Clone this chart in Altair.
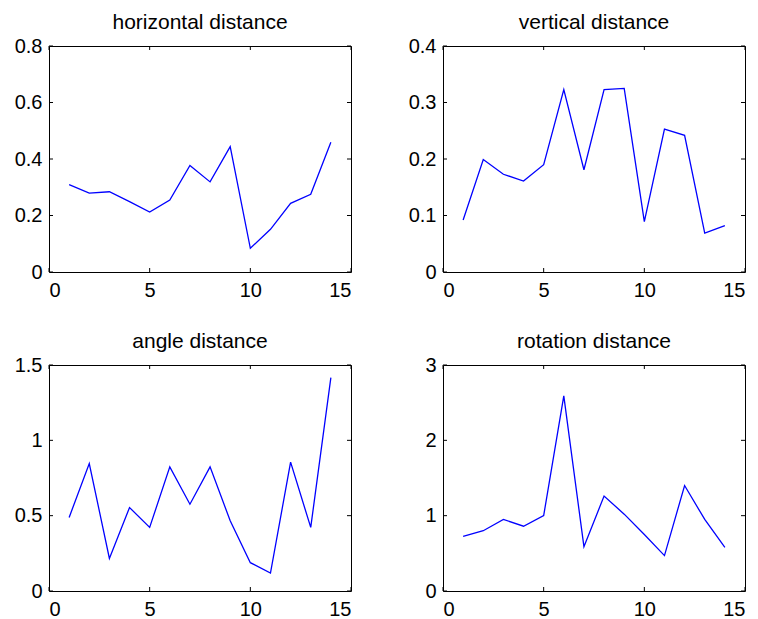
import altair as alt
import pandas as pd

x_vals = list(range(1, 15))
horizontal = [0.309, 0.279, 0.284, 0.249, 0.212, 0.255, 0.377, 0.319, 0.444, 0.084, 0.151, 0.243, 0.275, 0.459]
vertical = [0.092, 0.199, 0.173, 0.161, 0.190, 0.323, 0.181, 0.323, 0.325, 0.089, 0.253, 0.242, 0.069, 0.082]
angle = [0.488, 0.846, 0.216, 0.554, 0.422, 0.824, 0.576, 0.824, 0.466, 0.188, 0.119, 0.855, 0.422, 1.416]
rotation = [0.725, 0.80, 0.95, 0.86, 1.00, 2.59, 0.588, 1.26, 1.02, 0.75, 0.47, 1.40, 0.95, 0.58]

titles = ["horizontal distance", "vertical distance", "angle distance", "rotation distance"]
series = [horizontal, vertical, angle, rotation]
y_max = [0.8, 0.4, 1.5, 3]
y_ticks = [[0, 0.2, 0.4, 0.6, 0.8], [0, 0.1, 0.2, 0.3, 0.4], [0, 0.5, 1, 1.5], [0, 1, 2, 3]]
x_ticks = [0, 5, 10, 15]

W, H = 302, 226
TL = 4
FONT = "Liberation Sans"


def panel(title, vals, ymax, yt):
    df = pd.DataFrame({"x": x_vals, "y": vals})
    xs = alt.Scale(domain=[0, 15], nice=False, zero=False)
    ys = alt.Scale(domain=[0, ymax], nice=False)
    xa = alt.Axis(values=x_ticks, title=None, format="d")
    ya = alt.Axis(values=yt, title=None, format="~g")
    X = alt.X("x:Q", scale=xs, axis=xa)
    Y = alt.Y("y:Q", scale=ys, axis=ya)
    line = alt.Chart(df).mark_line(color="#0000ff", strokeWidth=1.3).encode(x=X, y=Y)
    ydf = pd.DataFrame({"y": yt})
    xdf = pd.DataFrame({"x": x_ticks})
    yl = alt.Chart(ydf).mark_rule(color="black", strokeWidth=1).encode(
        y=Y, x=alt.value(0), x2=alt.value(TL))
    yr = alt.Chart(ydf).mark_rule(color="black", strokeWidth=1).encode(
        y=Y, x=alt.value(W - TL), x2=alt.value(W))
    xb = alt.Chart(xdf).mark_rule(color="black", strokeWidth=1).encode(
        x=X, y=alt.value(H), y2=alt.value(H - TL))
    xt = alt.Chart(xdf).mark_rule(color="black", strokeWidth=1).encode(
        x=X, y=alt.value(0), y2=alt.value(TL))
    return alt.layer(line, yl, yr, xb, xt).properties(
        width=W, height=H,
        title=alt.TitleParams(title, font=FONT, fontSize=21, fontWeight="normal",
                              color="black", baseline="alphabetic", offset=16, dy=30,
                              anchor="middle"),
    )


panels = [panel(t, v, m, yt) for t, v, m, yt in zip(titles, series, y_max, y_ticks)]

chart = alt.concat(*panels, columns=2, spacing={"row": 29, "column": 50}).properties(
    padding={"left": 0, "top": 3, "right": 0, "bottom": 0},
    background="white",
).configure_view(
    stroke="black", strokeWidth=1
).configure_axis(
    labelFont=FONT, labelFontSize=20, labelColor="black", tickSize=0,
    domain=False, grid=False,
).configure_axisY(
    labelPadding=7, minExtent=40, maxExtent=40,
).configure_axisX(
    labelPadding=8,
)

chart.save("out.html", embed_options={"renderer": "svg", "actions": False})
